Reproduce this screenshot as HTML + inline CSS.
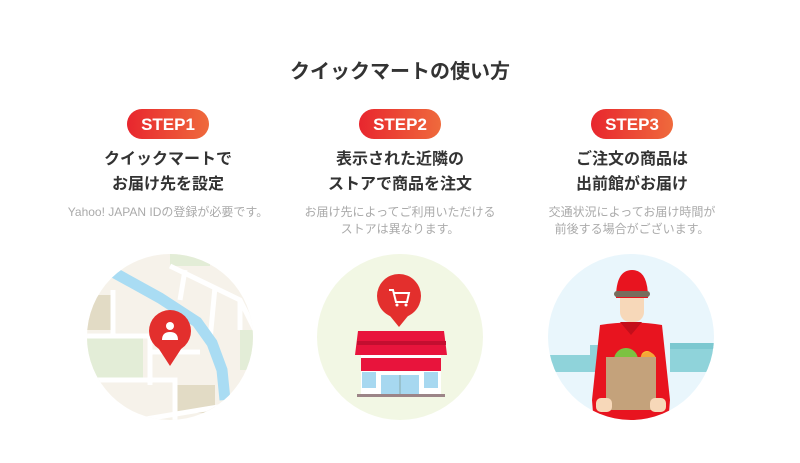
<!DOCTYPE html>
<html><head><meta charset="utf-8"><style>
body{margin:0;background:#fff;width:800px;height:463px;overflow:hidden;font-family:"Liberation Sans","Noto Sans CJK JP",sans-serif;}
.t{position:absolute;text-align:center;white-space:nowrap;}
</style></head><body>
<div class="t" style="left:0;width:800px;top:55px;font-size:20px;font-weight:bold;color:#333;">クイックマートの使い方</div>

<svg width="800" height="463" style="position:absolute;left:0;top:0">
<defs>
<linearGradient id="g" x1="0" x2="1"><stop offset="0" stop-color="#e8262e"/><stop offset="1" stop-color="#ef6a3c"/></linearGradient>
<clipPath id="c1"><circle cx="170" cy="337" r="83"/></clipPath>
<clipPath id="c3"><circle cx="631" cy="337" r="83"/></clipPath>
</defs>
<rect x="127" y="109" width="82" height="30" rx="15" fill="url(#g)"/>
<rect x="359" y="109" width="82" height="30" rx="15" fill="url(#g)"/>
<rect x="591" y="109" width="82" height="30" rx="15" fill="url(#g)"/>
<g font-family="Liberation Sans, sans-serif" font-weight="bold" font-size="17" fill="#fff" text-anchor="middle">
<text x="168" y="130">STEP1</text><text x="400" y="130">STEP2</text><text x="632" y="130">STEP3</text></g>

<!-- map -->
<g clip-path="url(#c1)">
<rect x="80" y="250" width="180" height="180" fill="#f6f2ea"/>
<rect x="85" y="295" width="28" height="35" fill="#e2dbc5"/>
<rect x="85" y="338" width="58" height="40" fill="#e3edd7"/>
<rect x="175" y="385" width="40" height="28" fill="#e2dbc5"/>
<rect x="170" y="252" width="40" height="14" fill="#e3edd7"/>
<rect x="240" y="330" width="20" height="40" fill="#e3edd7"/>
<g stroke="#fff" stroke-width="5" fill="none">
<path d="M80 336 H150 V385"/><path d="M80 380 H175 V430"/><path d="M113 290 V336"/>
<path d="M170 266 L240 300 L255 330"/><path d="M185 270 L180 300"/><path d="M215 287 L210 340"/>
<path d="M150 352 H200"/><path d="M140 420 L260 400"/><path d="M240 300 V330"/>
</g>
<path d="M113 272 L160 298 L197 322 L212 343 L222 370 L225 400" stroke="#a9dcf3" stroke-width="11" fill="none"/>
</g>
<circle cx="170" cy="331" r="21" fill="#e32f2d"/>
<path d="M157 346 L170 366 L183 346 Z" fill="#e32f2d"/>
<circle cx="170" cy="326" r="4" fill="#fff"/>
<path d="M162 340 Q162 332 170 332 Q178 332 178 340 Z" fill="#fff"/>

<!-- store -->
<circle cx="400" cy="337" r="83" fill="#f2f7e4"/>
<circle cx="399" cy="296" r="22" fill="#e32f2d"/>
<path d="M386 311 L399 327 L412 311 Z" fill="#e32f2d"/>
<path d="M389 290 H393 L396 302 H407 L409 293 H394" stroke="#fff" stroke-width="2" fill="none"/>
<circle cx="397" cy="305" r="1.5" fill="#fff"/><circle cx="406" cy="305" r="1.5" fill="#fff"/>
<path d="M358 331 H444 L447 355 H355 Z" fill="#e8143c"/>
<rect x="357" y="341" width="89" height="4" fill="#c40e30"/>
<rect x="361" y="355" width="80" height="39" fill="#fff"/>
<rect x="361" y="358" width="80" height="13" fill="#e8143c"/>
<rect x="362" y="372" width="14" height="16" fill="#a7d8f0"/>
<rect x="424" y="372" width="14" height="16" fill="#a7d8f0"/>
<rect x="381" y="375" width="38" height="20" fill="#a7d8f0"/>
<line x1="400" y1="375" x2="400" y2="395" stroke="#8aa" stroke-width="1"/>
<rect x="357" y="394" width="88" height="3" fill="#9c8487"/>

<!-- delivery -->
<circle cx="631" cy="337" r="83" fill="#e9f6fc"/>
<g clip-path="url(#c3)">
<path d="M548 355 H590 V345 H600 V372 H548 Z" fill="#8fd3da"/>
<rect x="670" y="347" width="50" height="25" fill="#8fd3da"/>
<rect x="670" y="343" width="50" height="6" fill="#7cc8d0"/>
<path d="M600 325 Q631 320 662 325 L670 400 L668 425 H594 L592 400 Z" fill="#e8141f"/>
<path d="M620 322 L631 335 L642 322 Z" fill="#c40e1a"/>
</g>
<rect x="620" y="288" width="24" height="34" rx="10" fill="#f7d8b9"/>
<path d="M616 298 Q616 270 632 270 Q648 270 648 298 Z" fill="#e8141f"/>
<rect x="614" y="291" width="36" height="6" rx="3" fill="#776d5d"/>
<circle cx="626" cy="360" r="12" fill="#7cc242"/>
<circle cx="647" cy="357" r="6" fill="#f7c531"/>
<circle cx="648" cy="360" r="8" fill="#f4a73a"/>
<rect x="606" y="357" width="50" height="53" fill="#c4a27b"/>
<rect x="596" y="398" width="16" height="14" rx="5" fill="#f7d8b9"/>
<rect x="650" y="398" width="16" height="14" rx="5" fill="#f7d8b9"/>
</svg>

<div class="t" style="left:68px;width:200px;top:147px;font-size:16px;font-weight:bold;color:#333;line-height:25px;">クイックマートで<br>お届け先を設定</div>
<div class="t" style="left:300px;width:200px;top:147px;font-size:16px;font-weight:bold;color:#333;line-height:25px;">表示された近隣の<br>ストアで商品を注文</div>
<div class="t" style="left:532px;width:200px;top:147px;font-size:16px;font-weight:bold;color:#333;line-height:25px;">ご注文の商品は<br>出前館がお届け</div>
<div class="t" style="left:48px;width:240px;top:204px;font-size:12px;color:#aaa;line-height:17px;">Yahoo! JAPAN IDの登録が必要です。</div>
<div class="t" style="left:280px;width:240px;top:204px;font-size:12px;color:#aaa;line-height:17px;">お届け先によってご利用いただける<br>ストアは異なります。</div>
<div class="t" style="left:512px;width:240px;top:204px;font-size:12px;color:#aaa;line-height:17px;">交通状況によってお届け時間が<br>前後する場合がございます。</div>
</body></html>
